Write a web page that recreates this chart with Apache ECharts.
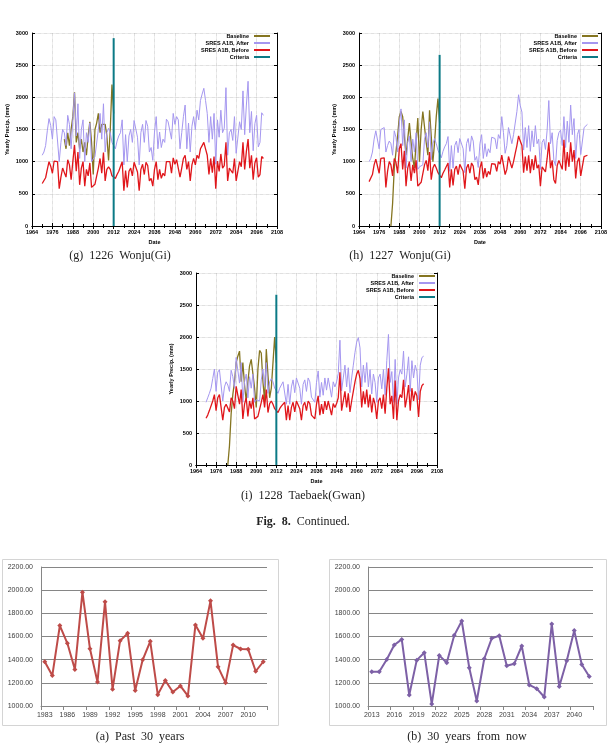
<!DOCTYPE html>
<html lang="en">
<head>
<meta charset="UTF-8">
<title>Yearly precipitation</title>
<script src="https://cdn.jsdelivr.net/npm/echarts@6/dist/echarts.min.js"></script>
<style>
  body { margin: 0; background: #fff; }
  #chart { width: 610px; height: 747px; }
</style>
</head>
<body>
<div id="chart"></div>
<script>
// years of the simulated series and of the observed baseline
var simYears = [];
for (var y = 1970; y <= 2100; y++) simYears.push(y);
var baseYears = [];
for (var y = 1983; y <= 2012; y++) baseYears.push(y);
var pastYears = baseYears.map(String);
var futureYears = [];
for (var y = 2013; y <= 2042; y++) futureYears.push(String(y));

var criteriaYear = 2012;
var criteriaTop = [2920, 2660, 2660];

// (g) 1226 Wonju(Gi)
var gAfter = [
  1100, 1150, 1250, 1480, 1670, 1560, 1350, 1700, 1650, 1680,
  1000, 1300, 1500, 1450, 1250, 1720, 1580, 1200, 1650, 2070,
  1400, 1900, 1050, 1500, 1650, 1000, 1450, 1300, 1600, 1000,
  1020, 1080, 1050, 1500, 1750, 1350, 1900, 1150, 1450, 1520,
  1450, 1300, 1250, 1200, 1320, 1400, 1450, 1650, 950, 1420,
  1000, 1400, 1500, 1300, 1640, 1620, 1380, 950, 1450, 1580,
  1300, 1640, 1550, 1150, 1220, 1020, 1460, 1700, 1200, 1460,
  1220, 1350, 1300, 1660, 1620, 1650, 1350, 1750, 1580, 1700,
  1650, 1200, 1450, 1700, 1880, 1200, 1600, 1150, 1550, 1700,
  1500, 1800, 1650, 1950, 2050, 2140, 1950, 1750, 1300, 1700,
  1350, 1750, 960, 1650, 1380, 1800, 1450, 1520, 2150, 1100,
  1450, 1500, 1330, 1700, 1130, 1100, 1620, 1500, 2100, 1420,
  1880, 2250, 1450, 1780, 1170, 1590, 1720, 1230, 1300, 1760,
  1720
];
var gBefore = [
  660, 690, 750, 880, 1000, 930, 820, 1010, 990, 1000,
  580, 760, 900, 870, 760, 1030, 950, 720, 1000, 1260,
  850, 1150, 640, 900, 1000, 620, 880, 780, 980, 600,
  620, 650, 640, 900, 1050, 820, 1140, 700, 880, 920,
  880, 780, 760, 740, 800, 850, 880, 1000, 550, 860,
  600, 850, 900, 780, 990, 980, 840, 550, 880, 960,
  800, 990, 940, 700, 740, 620, 880, 1000, 720, 880,
  740, 820, 780, 1000, 980, 1000, 820, 1060, 960, 1030,
  1000, 760, 900, 1050, 1100, 880, 1000, 700, 950, 1050,
  950, 1100, 1050, 1200, 1250, 1300, 1200, 1100, 800, 1050,
  830, 1080, 580, 1010, 850, 1120, 900, 940, 1300, 700,
  900, 920, 820, 1050, 700, 680, 1000, 920, 1300, 880,
  1160, 1350, 900, 1100, 720, 980, 1060, 760, 800, 1080,
  1050
];
var gBaseline = [
  1350, 1200, 1450, 1250, 1500, 1700, 2080, 1300, 1450, 1200,
  1350, 1150, 1300, 1100, 1400, 1620, 1300, 800, 1500, 1600,
  1750, 1450, 1580, 1550, 1580, 1400, 1020, 1500, 2200, 1750
];

// (h) 1227 Wonju(Gi)
var hAfter = [
  1000, 1050, 1150, 1350, 1480, 1500, 1200, 1500, 1520, 1530,
  1150, 1250, 1320, 1280, 1100, 1480, 1380, 1150, 1600, 1820,
  1250, 1650, 900, 1300, 1400, 1000, 1350, 1150, 1450, 880,
  920, 950, 950, 1350, 1450, 1220, 1620, 1030, 1280, 1360,
  1280, 1180, 1120, 1060, 1160, 1230, 1280, 1390, 850, 1250,
  900, 1250, 1320, 1140, 1360, 1350, 1200, 830, 1280, 1360,
  1160, 1400, 1320, 1020, 1080, 910, 1280, 1420, 1050, 1280,
  1080, 1200, 1140, 1380, 1360, 1360, 1200, 1420, 1360, 1700,
  1450, 1130, 1250, 1530, 1560, 1280, 1420, 1600, 1780, 2040,
  1870, 1770, 1180, 1530, 1220, 1560, 1160, 1480, 1230, 1560,
  1280, 1350, 880, 1300, 1350, 1190, 1490, 1950, 1280, 1450,
  1020, 940, 1330, 1450, 1490, 1250, 1700, 1220, 1630, 1300,
  1880, 1420, 1670, 1050, 1420, 1500, 1110, 1080, 1530, 1560,
  1580
];
var hBefore = [
  690, 720, 800, 950, 1040, 1030, 820, 1050, 1060, 1060,
  600, 850, 1000, 950, 780, 1050, 990, 820, 1200, 1280,
  880, 1170, 620, 900, 1000, 700, 950, 820, 1020, 620,
  650, 680, 660, 950, 1020, 860, 1150, 720, 900, 960,
  900, 830, 800, 750, 820, 870, 900, 980, 600, 880,
  630, 880, 930, 800, 960, 950, 850, 580, 900, 960,
  820, 980, 930, 720, 760, 640, 900, 1000, 740, 900,
  760, 850, 800, 970, 950, 960, 850, 1000, 960, 1100,
  950, 800, 880, 1080, 1100, 900, 1000, 1130, 1250, 1400,
  1320, 1250, 830, 1080, 860, 1100, 820, 1040, 870, 1100,
  900, 950, 620, 920, 950, 840, 1050, 1300, 900, 1020,
  720, 660, 940, 1020, 1050, 880, 1340, 860, 1150, 920,
  1300, 1000, 1180, 740, 1000, 1060, 780, 760, 1080, 1100,
  1100
];
var hBaseline = [
  0, 350, 900, 1150, 1400, 1700, 1780, 1700, 1400, 1100,
  1350, 1600, 1300, 1050, 900, 1300, 1680, 1000, 1500, 1780,
  1750, 1300, 1100, 1800, 1400, 1000, 1300, 1700, 1980, 1600
];

// (i) 1228 Taebaek(Gwan)
var iAfter = [
  980, 1050, 1120, 1200, 1350, 1500, 1150, 1450, 1490, 1500,
  1000, 1220, 1300, 1250, 1150, 1480, 1380, 1200, 1680, 1700,
  1280, 1600, 980, 1300, 1420, 1050, 1380, 1200, 1420, 980,
  1020, 1050, 1000, 1330, 1500, 1230, 1600, 1120, 1300, 1350,
  1300, 1200, 1160, 1120, 1200, 1250, 1300, 1330, 950, 1260,
  950, 1220, 1330, 1130, 1360, 1330, 1200, 950, 1260, 1330,
  1150, 1360, 1300, 1060, 1090, 980, 1290, 1470, 1060, 1290,
  1090, 1360, 1170, 1360, 1330, 1060, 1300, 1220, 1300, 1430,
  1950, 1160, 1360, 1560, 1220, 1520, 1130, 1360, 1560, 1760,
  1920, 1990, 1830, 1220, 1560, 1290, 1600, 1220, 1490, 1110,
  1420, 1290, 980, 1360, 1420, 1190, 1490, 1090, 1630, 2040,
  1290, 1460, 980, 1650, 950, 1360, 1490, 1420, 1780, 1220,
  1420, 1690, 1150, 1630, 1360, 1560, 1460, 1020, 1560, 1680,
  1700
];
var iBefore = [
  730, 780, 850, 870, 1000, 1100, 850, 1050, 1100, 1100,
  700, 900, 950, 920, 830, 1050, 1000, 880, 1230, 1250,
  950, 1180, 720, 950, 1050, 760, 1000, 880, 1050, 720,
  750, 760, 730, 980, 1100, 900, 1180, 820, 960, 1000,
  950, 880, 850, 820, 880, 920, 950, 980, 700, 930,
  700, 900, 980, 830, 1000, 980, 880, 700, 930, 980,
  850, 1000, 960, 780, 800, 720, 950, 1080, 780, 950,
  800, 1000, 860, 1000, 980, 780, 960, 900, 960, 1050,
  1450, 850, 1000, 1150, 900, 1120, 830, 1000, 1150, 1300,
  1420, 1480, 1350, 900, 1150, 950, 1180, 900, 1100, 820,
  1050, 950, 720, 1000, 1050, 880, 1100, 800, 1200, 1510,
  950, 1080, 720, 1320, 700, 1000, 1100, 1050, 1330, 900,
  1050, 1250, 850, 1200, 1000, 1150, 1080, 750, 1150, 1240,
  1270
];
var iBaseline = [
  0, 300, 800, 1100, 1300, 1600, 1700, 1780, 1300, 1600,
  1250, 1000, 1300, 1550, 1650, 1680, 1200, 900, 1500, 1790,
  1750, 1300, 1000, 1810, 1400, 1050, 1200, 1600, 2000, 1600
];

// (a) past 30 years, (b) 30 years from now
var pastValues = [
  1382, 1263, 1694, 1541, 1315, 1983, 1494, 1208, 1899, 1145,
  1564, 1627, 1133, 1399, 1558, 1098, 1220, 1121, 1173, 1087,
  1700, 1584, 1908, 1338, 1200, 1526, 1492, 1489, 1300, 1382
];
var futureValues = [
  1295, 1295, 1402, 1526, 1575, 1095, 1396, 1460, 1017, 1437,
  1373, 1610, 1734, 1330, 1043, 1408, 1584, 1607, 1347, 1364,
  1518, 1182, 1150, 1078, 1708, 1168, 1390, 1651, 1359, 1254
];

var legendNames = ['Baseline', 'SRES A1B, After', 'SRES A1B, Before', 'Criteria'];
var colBase = '#857521', colAfter = '#a597f0', colBefore = '#e0161b', colCrit = '#0c7a86';

var pairs = function (xs, vs) { return vs.map(function (v, i) { return [xs[i], v]; }); };
var plain = function (v) { return String(v); };

var small = { fontFamily: 'Liberation Sans', fontWeight: 'bold', fontSize: 5.5, color: '#000' };

var gnu = [
  { grid: { left: 32, top: 33, width: 245, height: 193 }, legend: { right: 340, top: 33 },
    after: gAfter, before: gBefore, base: gBaseline },
  { grid: { left: 359, top: 33, width: 245, height: 193 }, legend: { right: 12, top: 33 },
    after: hAfter, before: hBefore, base: hBaseline },
  { grid: { left: 196, top: 273, width: 241, height: 192 }, legend: { right: 175, top: 273 },
    after: iAfter, before: iBefore, base: iBaseline }
];

var grids = [], xAxes = [], yAxes = [], series = [], legends = [];
var lineBlack = { show: true, lineStyle: { color: '#000', width: 1 } };

gnu.forEach(function (c, k) {
  grids.push(c.grid);
  xAxes.push({
    type: 'value', gridIndex: k, min: 1964, max: 2108, interval: 12,
    axisLine: lineBlack,
    axisTick: { inside: true, length: 3, lineStyle: { color: '#000' } },
    minorTick: { show: true, splitNumber: 2, length: 2, lineStyle: { color: '#000' } },
    splitLine: { show: true, lineStyle: { color: '#aaa', type: 'dotted', width: 0.6 } },
    axisLabel: Object.assign({ margin: 3, formatter: plain }, small),
    name: 'Date', nameLocation: 'middle', nameGap: 13, nameTextStyle: small
  });
  yAxes.push({
    type: 'value', gridIndex: k, min: 0, max: 3000, interval: 500,
    axisLine: lineBlack,
    axisTick: { inside: true, length: 3, lineStyle: { color: '#000' } },
    splitLine: { show: true, lineStyle: { color: '#aaa', type: 'dotted', width: 0.6 } },
    axisLabel: Object.assign({ margin: 4, formatter: plain }, small),
    name: 'Yearly Precip. (mm)', nameLocation: 'middle', nameGap: 22, nameRotate: 90,
    nameTextStyle: small
  });
  legends.push({
    orient: 'vertical', right: c.legend.right, top: c.legend.top, align: 'right',
    icon: 'rect', itemWidth: 16, itemHeight: 2, itemGap: 1, padding: 0,
    textStyle: Object.assign({ lineHeight: 5.5, padding: [0, 0, 0, 0] }, small),
    data: legendNames, selectedMode: false
  });
  series.push(
    { name: 'Baseline', type: 'line', xAxisIndex: k, yAxisIndex: k, symbol: 'none',
      lineStyle: { color: colBase, width: 1.3 }, itemStyle: { color: colBase },
      data: pairs(baseYears, c.base) },
    { name: 'SRES A1B, After', type: 'line', xAxisIndex: k, yAxisIndex: k, symbol: 'none',
      lineStyle: { color: colAfter, width: 1 }, itemStyle: { color: colAfter },
      data: pairs(simYears, c.after) },
    { name: 'SRES A1B, Before', type: 'line', xAxisIndex: k, yAxisIndex: k, symbol: 'none',
      lineStyle: { color: colBefore, width: 1.3 }, itemStyle: { color: colBefore },
      data: pairs(simYears, c.before) },
    { name: 'Criteria', type: 'line', xAxisIndex: k, yAxisIndex: k, symbol: 'none',
      lineStyle: { color: colCrit, width: 2 }, itemStyle: { color: colCrit },
      data: [[criteriaYear, 0], [criteriaYear, criteriaTop[k]]] }
  );
});

// mirrored top / right borders with ticks (gnuplot box)
gnu.forEach(function (c, k) {
  xAxes.push({
    type: 'value', gridIndex: k, position: 'top', min: 1964, max: 2108, interval: 12,
    axisLine: lineBlack, axisLabel: { show: false }, splitLine: { show: false },
    axisTick: { inside: true, length: 3, lineStyle: { color: '#000' } },
    minorTick: { show: true, splitNumber: 2, length: 2, lineStyle: { color: '#000' } }
  });
  yAxes.push({
    type: 'value', gridIndex: k, position: 'right', min: 0, max: 3000, interval: 500,
    axisLine: lineBlack, axisLabel: { show: false }, splitLine: { show: false },
    axisTick: { inside: true, length: 3, lineStyle: { color: '#000' } }
  });
});

// Excel style charts
var excel = [
  { grid: { left: 41, top: 567, width: 226, height: 139 }, cats: pastYears, vals: pastValues, color: '#be4b48' },
  { grid: { left: 368, top: 567, width: 225, height: 139 }, cats: futureYears, vals: futureValues, color: '#7d60a6' }
];
var exLabel = { fontFamily: 'Liberation Sans', fontSize: 7, color: '#404040' };
excel.forEach(function (c, j) {
  var gi = grids.length;
  grids.push(c.grid);
  var xi = xAxes.length;
  xAxes.push({
    type: 'category', gridIndex: gi, data: c.cats, boundaryGap: true,
    axisLine: { show: true, lineStyle: { color: '#868686', width: 1 } },
    axisTick: { show: true, interval: 2, length: 4, lineStyle: { color: '#868686' } },
    axisLabel: Object.assign({ interval: 2, margin: 6 }, exLabel),
    splitLine: { show: false }
  });
  yAxes.push({
    type: 'value', gridIndex: gi, min: 1000, max: 2200, interval: 200,
    axisLine: { show: true, lineStyle: { color: '#868686', width: 1 } },
    axisTick: { show: false },
    splitLine: { show: true, lineStyle: { color: '#868686', width: 1 } },
    axisLabel: Object.assign({ margin: 8, formatter: function (v) { return v.toFixed(2); } }, exLabel)
  });
  series.push({
    name: 'excel' + j, type: 'line', xAxisIndex: xi, yAxisIndex: xi,
    symbol: 'diamond', symbolSize: 5, showSymbol: true,
    lineStyle: { color: c.color, width: 2 }, itemStyle: { color: c.color },
    data: c.vals
  });
});

var capFont = '12px "Liberation Serif"';
var graphics = [
  { type: 'text', x: 120, y: 256, style: { text: '(g)  1226  Wonju(Gi)', font: capFont, fill: '#222', align: 'center', verticalAlign: 'middle' } },
  { type: 'text', x: 400, y: 256, style: { text: '(h)  1227  Wonju(Gi)', font: capFont, fill: '#222', align: 'center', verticalAlign: 'middle' } },
  { type: 'text', x: 303, y: 496, style: { text: '(i)  1228  Taebaek(Gwan)', font: capFont, fill: '#222', align: 'center', verticalAlign: 'middle' } },
  { type: 'text', x: 303, y: 522, style: {
      text: '{b|Fig.  8.}  Continued.', font: capFont, fill: '#222', align: 'center', verticalAlign: 'middle',
      rich: { b: { font: 'bold 12px "Liberation Serif"', fill: '#222' } } } },
  { type: 'rect', shape: { x: 2.5, y: 559.5, width: 276, height: 166 }, style: { fill: 'none', stroke: '#d4d4d4', lineWidth: 1 }, z: -1 },
  { type: 'rect', shape: { x: 329.5, y: 559.5, width: 277, height: 166 }, style: { fill: 'none', stroke: '#d4d4d4', lineWidth: 1 }, z: -1 },
  { type: 'text', x: 140, y: 737, style: { text: '(a)  Past  30  years', font: capFont, fill: '#222', align: 'center', verticalAlign: 'middle' } },
  { type: 'text', x: 467, y: 737, style: { text: '(b)  30  years  from  now', font: capFont, fill: '#222', align: 'center', verticalAlign: 'middle' } }
];

var chart = echarts.init(document.getElementById('chart'));
chart.setOption({
  animation: false,
  backgroundColor: '#fff',
  grid: grids,
  xAxis: xAxes,
  yAxis: yAxes,
  legend: legends,
  series: series,
  graphic: graphics
});
</script>
</body>
</html>
